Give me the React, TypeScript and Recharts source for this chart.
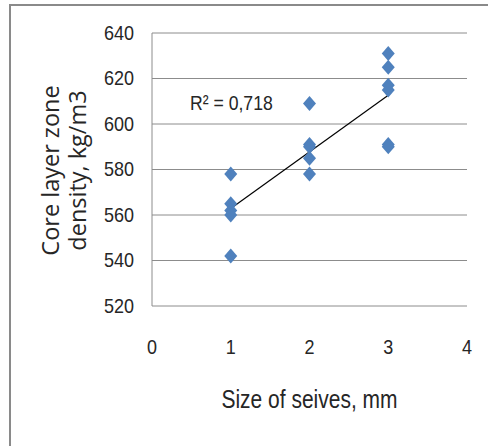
import React from 'react';
import { ScatterChart, Scatter, XAxis, YAxis, CartesianGrid, ReferenceLine, Customized } from 'recharts';

const sieveSizes = [1, 1, 1, 1, 1, 2, 2, 2, 2, 2, 3, 3, 3, 3, 3, 3];
const densities = [578, 565, 562, 560, 542, 609, 591, 590, 585, 578, 631, 625, 617, 615, 591, 590];
const xTicks = [0, 1, 2, 3, 4];
const yTicks = [520, 540, 560, 580, 600, 620, 640];
const r2Label = 'R² = 0,718';

const points = sieveSizes.map((x, i) => ({ x, y: densities[i] }));

// least-squares trend line from the data
const n = points.length;
const mx = points.reduce((s, p) => s + p.x, 0) / n;
const my = points.reduce((s, p) => s + p.y, 0) / n;
const slope =
  points.reduce((s, p) => s + (p.x - mx) * (p.y - my), 0) /
  points.reduce((s, p) => s + (p.x - mx) * (p.x - mx), 0);
const intercept = my - slope * mx;
const xMin = Math.min(...sieveSizes);
const xMax = Math.max(...sieveSizes);

const NARROW = "'Liberation Sans', Arial, sans-serif";
const WIDE = "'Open Sans', 'Liberation Sans', sans-serif";
const GRID = '#8c8c8c';
const BLUE = '#4F81BD';
const TXT = '#262626';

const Diamond = (props: any) => {
  const { cx, cy } = props;
  if (cx == null || cy == null) return null;
  const w = 6.5;
  const h = 7.5;
  return <path d={`M${cx},${cy - h}L${cx + w},${cy}L${cx},${cy + h}L${cx - w},${cy}Z`} fill={BLUE} />;
};

const XTick = (props: any) => {
  const { x, y, payload } = props;
  return (
    <text
      x={x}
      y={y + 48}
      textAnchor="middle"
      fontFamily={NARROW}
      fontSize={20}
      fill={TXT}
      transform={`translate(${x} 0) scale(0.9 1) translate(${-x} 0)`}
    >
      {payload.value}
    </text>
  );
};

const YTick = (props: any) => {
  const { x, y, payload } = props;
  return (
    <text
      x={x}
      y={y + 7}
      textAnchor="end"
      fontFamily={NARROW}
      fontSize={20}
      fill={TXT}
      transform={`translate(${x} 0) scale(0.9 1) translate(${-x} 0)`}
    >
      {payload.value}
    </text>
  );
};

const YLabel = (props: any) => {
  const vb = props.viewBox || { y: 33, height: 273 };
  const cy = vb.y + vb.height / 2 + 1;
  return (
    <g fontFamily={WIDE} fontSize={23.5} fill={TXT}>
      <text x={50} y={cy} transform={`rotate(-90 50 ${cy})`} textAnchor="middle" dominantBaseline="central">
        Core layer  zone
      </text>
      <text x={77} y={cy} transform={`rotate(-90 77 ${cy})`} textAnchor="middle" dominantBaseline="central">
        density, kg/m3
      </text>
    </g>
  );
};

const XLabel = (props: any) => {
  const vb = props.viewBox || { x: 152, width: 315, y: 306 };
  const cx = vb.x + vb.width / 2;
  return (
    <text
      x={cx}
      y={408}
      textAnchor="middle"
      fontFamily={NARROW}
      fontSize={25}
      fill={TXT}
      transform={`translate(${cx} 0) scale(0.84 1) translate(${-cx} 0)`}
    >
      Size of seives, mm
    </text>
  );
};

const R2 = () => (
  <text
    x={190}
    y={110}
    fontFamily={NARROW}
    fontSize={21}
    fill={TXT}
    transform="translate(190 0) scale(0.84 1) translate(-190 0)"
  >
    {r2Label}
  </text>
);

export default function App() {
  return (
    <div style={{ position: 'absolute', left: 0, top: 0, width: 488, height: 446, overflow: 'hidden', background: '#fff' }}>
      <div
        style={{
          position: 'absolute',
          left: 9,
          top: 4,
          width: 520,
          height: 520,
          border: '2px solid #8a8a8a',
          boxSizing: 'border-box',
        }}
      />
      <div style={{ position: 'absolute', left: 0, top: 0 }}>
        <ScatterChart width={488} height={446} margin={{ top: 33, right: 21, bottom: 0, left: 0 }}>
          <CartesianGrid horizontal vertical={false} stroke={GRID} strokeWidth={1} />
          <XAxis
            type="number"
            dataKey="x"
            domain={[0, 4]}
            ticks={xTicks}
            height={140}
            axisLine={false}
            tickLine={false}
            tickSize={0}
            tickMargin={0}
            tick={<XTick />}
            label={<XLabel />}
            allowDataOverflow
          />
          <YAxis
            type="number"
            dataKey="y"
            domain={[520, 640]}
            ticks={yTicks}
            width={152}
            axisLine={{ stroke: GRID }}
            tickLine={false}
            tickSize={0}
            tickMargin={18}
            tick={<YTick />}
            label={<YLabel />}
            allowDataOverflow
          />
          <ReferenceLine
            segment={[
              { x: xMin, y: intercept + slope * xMin },
              { x: xMax, y: intercept + slope * xMax },
            ]}
            stroke="#000"
            strokeWidth={1.2}
            ifOverflow="visible"
          />
          <Scatter data={points} shape={<Diamond />} isAnimationActive={false} />
          <Customized component={R2} />
        </ScatterChart>
      </div>
    </div>
  );
}
